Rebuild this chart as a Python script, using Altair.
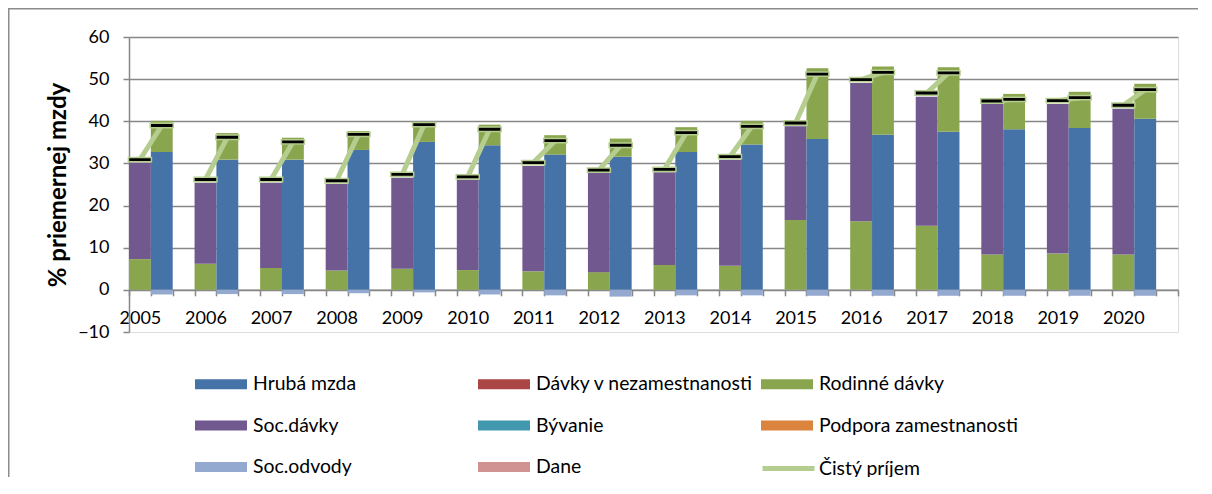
import altair as alt
import pandas as pd

# ---------------- data ----------------
years = [2005, 2006, 2007, 2008, 2009, 2010, 2011, 2012,
         2013, 2014, 2015, 2016, 2017, 2018, 2019, 2020]

# left bar of each year (Soc. dávky + Rodinné dávky)
left_family = [7.3, 6.2, 5.2, 4.6, 5.0, 4.7, 4.4, 4.2, 5.9, 5.7, 16.6, 16.3, 15.2, 8.4, 8.6, 8.4]
left_social = [22.9, 19.2, 20.2, 20.5, 21.6, 21.4, 25.0, 23.5, 22.0, 25.2, 22.2, 32.8, 30.6, 35.7, 35.5, 34.6]
left_net = [30.9, 26.2, 26.2, 25.9, 27.4, 26.8, 30.2, 28.4, 28.6, 31.6, 39.6, 49.9, 46.7, 44.8, 44.9, 43.8]

# right bar of each year (Hrubá mzda + Rodinné dávky, Soc. odvody negative)
right_gross = [32.7, 30.9, 30.9, 33.2, 35.1, 34.3, 32.1, 31.6, 32.7, 34.5, 35.8, 36.8, 37.5, 38.1, 38.4, 40.6]
right_family = [7.4, 6.3, 5.2, 4.5, 4.7, 4.9, 4.6, 4.3, 5.9, 5.6, 16.8, 16.2, 15.3, 8.4, 8.6, 8.3]
right_contrib = [-1.1, -1.0, -1.0, -0.8, -0.6, -1.1, -1.3, -1.6, -1.3, -1.3, -1.4, -1.4, -1.4, -1.4, -1.4, -1.4]
right_net = [39.0, 36.2, 35.1, 36.9, 39.2, 38.1, 35.4, 34.3, 37.3, 38.8, 51.2, 51.6, 51.5, 45.2, 45.6, 47.5]

bar_series = ["Hrubá mzda", "Dávky v nezamestnanosti", "Rodinné dávky",
              "Soc.dávky", "Bývanie", "Podpora zamestnanosti",
              "Soc.odvody", "Dane"]
bar_colors = ["#4572A7", "#AA4643", "#89A54E",
              "#71588F", "#4198AF", "#DB843D",
              "#93A9CF", "#D19392"]
net_label = "Čistý príjem"
net_color = "#B5CD8F"

y_ticks = [-10, 0, 10, 20, 30, 40, 50, 60]

# ---------------- tables built from the arrays ----------------
rows = []
for i, yr in enumerate(years):
    ls = 3 * i
    rs = 3 * i + 1
    rows.append({"slot": ls, "series": "Rodinné dávky", "value": left_family[i], "order": 0})
    rows.append({"slot": ls, "series": "Soc.dávky", "value": left_social[i], "order": 1})
    rows.append({"slot": rs, "series": "Hrubá mzda", "value": right_gross[i], "order": 0})
    rows.append({"slot": rs, "series": "Rodinné dávky", "value": right_family[i], "order": 1})
    rows.append({"slot": rs, "series": "Soc.odvody", "value": right_contrib[i], "order": 2})
bar_df = pd.DataFrame(rows)

net_rows = []
for i, yr in enumerate(years):
    net_rows.append({"year": yr, "pos": 3 * i + 0.5, "net": left_net[i], "label": net_label})
    net_rows.append({"year": yr, "pos": 3 * i + 1.5, "net": right_net[i], "label": net_label})
net_df = pd.DataFrame(net_rows)

n_slots = 3 * len(years)
year_js = "[" + ",".join("'%d'" % y for y in years) + "]"

GRAY = "#878787"
FONT = "Lato"

x_scale = alt.Scale(domain=[0, n_slots], nice=False, zero=False)
y_scale = alt.Scale(domain=[-10, 60], nice=False, zero=False)

x_axis = alt.Axis(
    values=list(range(n_slots + 1)),
    labelExpr=f"(datum.value % 3 == 0 && datum.value < {n_slots}) ? {year_js}[datum.value / 3] : ''",
    labelOffset=10.9, labelFlush=False, labelOverlap=False,
    offset=-42.2, grid=False,
    domainColor=GRAY, domainWidth=1.5,
    tickColor=GRAY, tickWidth=1.5, tickSize=6,
    labelPadding=14, labelFont=FONT, labelFontSize=18, labelColor="black",
    title=None,
)
y_axis = alt.Axis(
    values=y_ticks, grid=True, gridColor=GRAY, gridWidth=1.5,
    gridOpacity={"condition": {"test": "datum.value < 0", "value": 0}, "value": 1},
    domainColor=GRAY, domainWidth=1.5, tickColor=GRAY, tickWidth=1.5, tickSize=6,
    labelPadding=14, labelFont=FONT, labelFontSize=18, labelColor="black",
    title="% priemernej mzdy", titleFont=FONT, titleFontSize=24, titleFontWeight="bold",
    titleColor="black", titleX=-71, titleY=147.5, titleAngle=270,
    titleAlign="center", titleBaseline="middle",
)

LEG_FONT = 19.4

bars = alt.Chart(bar_df).transform_stack(
    stack="value", groupby=["slot"], as_=["y0", "y1"],
    sort=[alt.SortField("order", order="ascending")],
).transform_calculate(
    slot_end="datum.slot + 1"
).mark_rect().encode(
    x=alt.X("slot:Q", scale=x_scale, axis=x_axis),
    x2="slot_end:Q",
    y=alt.Y("y0:Q", scale=y_scale, axis=y_axis),
    y2="y1:Q",
    color=alt.Color(
        "series:N",
        scale=alt.Scale(domain=bar_series, range=bar_colors),
        legend=alt.Legend(
            title=None, orient="none", legendX=66, legendY=321,
            direction="horizontal",
            columns=3, gridAlign="all", columnPadding=7, rowPadding=5.5,
            symbolType="M-1,-0.1923H1V0.1923H-1Z", symbolSize=2704,
            symbolStrokeWidth=0, symbolOpacity=1,
            labelFont=FONT, labelFontSize=LEG_FONT, labelColor="black",
            labelOffset=6, labelLimit=400, padding=0,
        ),
    ),
)

line = alt.Chart(net_df).mark_line(strokeWidth=5).encode(
    x=alt.X("pos:Q", scale=x_scale, axis=x_axis),
    y=alt.Y("net:Q", scale=y_scale, axis=y_axis),
    detail="year:N",
    color=alt.Color(
        "label:N",
        scale=alt.Scale(domain=[net_label], range=[net_color]),
        legend=alt.Legend(
            title=None, orient="none", legendX=631, legendY=403,
            symbolType="stroke", symbolSize=2704, symbolStrokeWidth=5,
            symbolStrokeColor=net_color, symbolOpacity=1,
            labelFont=FONT, labelFontSize=LEG_FONT, labelColor="black",
            labelOffset=2, labelLimit=400, padding=0,
        ),
    ),
)

markers = alt.Chart(net_df).mark_point(
    shape="M-1,-0.19H1V0.19H-1Z", size=529, filled=True,
    fill="black", stroke=net_color, strokeWidth=1.5, opacity=1,
).encode(
    x=alt.X("pos:Q", scale=x_scale, axis=x_axis),
    y=alt.Y("net:Q", scale=y_scale, axis=y_axis),
)

# chart frame (top and left edge of the surrounding box)
one = pd.DataFrame({"k": [0]})
border_top = alt.Chart(one).mark_rect(color="#8C8C8C", strokeWidth=0).encode(
    x=alt.value(-121), x2=alt.value(1069),
    y=alt.value(-29), y2=alt.value(-27.5),
)
border_left = alt.Chart(one).mark_rect(color="#8C8C8C", strokeWidth=0).encode(
    x=alt.value(-121), x2=alt.value(-119.5),
    y=alt.value(-29), y2=alt.value(440),
)

chart = alt.layer(bars, line, markers, border_top, border_left).resolve_scale(
    color="independent"
).properties(
    width=1049, height=295,
    autosize=alt.AutoSizeParams(type="none"),
    padding={"left": 121, "top": 29, "right": 20, "bottom": 145},
).configure_view(stroke=None).configure(font=FONT)

chart.save("out.html", embed_options={"renderer": "svg", "actions": False})
